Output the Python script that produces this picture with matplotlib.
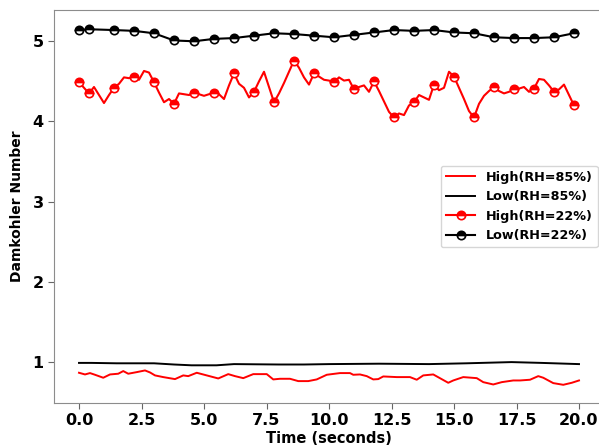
import numpy as np
import matplotlib
matplotlib.use("Agg")
import matplotlib.pyplot as plt

# ---- data ----
# RH=22% high: 0.2 s grid from 0 to 19.8
t22_high = [round(0.2 * i, 1) for i in range(100)]
v22_high = [4.49, 4.42, 4.35, 4.43, 4.33, 4.23, 4.33, 4.42, 4.47, 4.55,
            4.54, 4.55, 4.52, 4.63, 4.61, 4.49, 4.36, 4.24, 4.28, 4.22,
            4.35, 4.34, 4.33, 4.35, 4.34, 4.32, 4.34, 4.35, 4.34, 4.28,
            4.45, 4.60, 4.47, 4.42, 4.30, 4.37, 4.50, 4.62, 4.43, 4.24,
            4.35, 4.48, 4.62, 4.76, 4.67, 4.55, 4.46, 4.60, 4.56, 4.52,
            4.51, 4.49, 4.55, 4.51, 4.52, 4.40, 4.43, 4.45, 4.37, 4.50,
            4.38, 4.25, 4.12, 4.05, 4.10, 4.08, 4.20, 4.24, 4.33, 4.30,
            4.27, 4.46, 4.39, 4.42, 4.62, 4.56, 4.42, 4.28, 4.13, 4.05,
            4.22, 4.32, 4.38, 4.43, 4.38, 4.35, 4.37, 4.40, 4.41, 4.43,
            4.37, 4.41, 4.53, 4.52, 4.45, 4.37, 4.40, 4.46, 4.33, 4.20]
marker_idx = [0, 2] + list(range(7, 100, 4))

# RH=22% low: sampled at marker times
t22_low = [0.0, 0.4, 1.4, 2.2, 3.0, 3.8, 4.6, 5.4, 6.2, 7.0, 7.8, 8.6, 9.4,
           10.2, 11.0, 11.8, 12.6, 13.4, 14.2, 15.0, 15.8, 16.6, 17.4,
           18.2, 19.0, 19.8]
v22_low = [5.14, 5.15, 5.14, 5.13, 5.10, 5.01, 5.00, 5.03, 5.04, 5.07,
           5.10, 5.09, 5.07, 5.05, 5.08, 5.11, 5.14, 5.13, 5.14, 5.11,
           5.10, 5.05, 5.04, 5.04, 5.05, 5.10]

# RH=85% high
t85_high = [0.0, 0.24, 0.44, 0.64, 0.97, 1.24, 1.57, 1.77, 1.97, 2.31,
            2.64, 2.84, 3.04, 3.37, 3.84, 4.17, 4.37, 4.71, 5.11, 5.57,
            5.97, 6.24, 6.57, 6.97, 7.51, 7.77, 8.04, 8.44, 8.77, 9.17,
            9.51, 9.91, 10.44, 10.84, 10.97, 11.24, 11.51, 11.77, 11.97,
            12.17, 12.71, 13.24, 13.51, 13.77, 14.17, 14.77, 14.97, 15.37,
            15.91, 16.17, 16.57, 16.91, 17.37, 17.64, 18.04, 18.37, 18.57,
            18.97, 19.37, 19.71, 20.0]
v85_high = [0.867, 0.846, 0.863, 0.842, 0.805, 0.846, 0.855, 0.888, 0.855,
            0.875, 0.896, 0.871, 0.834, 0.813, 0.788, 0.834, 0.825, 0.867,
            0.834, 0.796, 0.850, 0.825, 0.800, 0.850, 0.850, 0.784, 0.792,
            0.792, 0.763, 0.763, 0.784, 0.842, 0.863, 0.863, 0.842, 0.846,
            0.825, 0.784, 0.788, 0.821, 0.813, 0.813, 0.780, 0.834, 0.846,
            0.742, 0.771, 0.813, 0.800, 0.750, 0.721, 0.750, 0.771, 0.771,
            0.780, 0.825, 0.805, 0.738, 0.717, 0.742, 0.771]

# RH=85% low
t85_low = [0.0, 0.5, 1.5, 3.0, 3.8, 4.5, 5.5, 6.2, 8.0, 9.0, 10.0, 12.0,
           14.0, 15.5, 17.3, 18.5, 20.0]
v85_low = [0.99, 0.99, 0.985, 0.985, 0.97, 0.96, 0.96, 0.975, 0.97, 0.97,
           0.975, 0.98, 0.975, 0.985, 1.0, 0.99, 0.975]

xticks = [0.0, 2.5, 5.0, 7.5, 10.0, 12.5, 15.0, 17.5, 20.0]
yticks = [1, 2, 3, 4, 5]

# ---- plot ----
plt.rcParams['font.family'] = ['DejaVu Sans']
plt.rcParams['font.weight'] = 'bold'

fig = plt.figure(figsize=(5.99, 4.48), dpi=100)
ax = fig.add_axes([54 / 599, 45 / 448, 550 / 599, 393 / 448])

ax.plot(t85_high, v85_high, color='red', lw=1.4, label='High(RH=85%)')
ax.plot(t85_low, v85_low, color='black', lw=1.4, label='Low(RH=85%)')
ax.plot(t22_high, v22_high, color='red', lw=1.5, marker='o', ms=6,
        fillstyle='top', markerfacecoloralt='white', markeredgecolor='red',
        markeredgewidth=1.2, markevery=marker_idx, label='High(RH=22%)')
ax.plot(t22_low, v22_low, color='black', lw=1.5, marker='o', ms=6,
        fillstyle='top', markerfacecoloralt='white', markeredgecolor='black',
        markeredgewidth=1.2, label='Low(RH=22%)')

ax.set_xlim(-1, 21)
ax.set_ylim(0.49, 5.39)
ax.set_xticks(xticks)
ax.set_xticklabels([f"{v:.1f}" for v in xticks])
ax.set_yticks(yticks)
ax.tick_params(labelsize=11.5, color='0.4', length=4)
for lab in ax.get_xticklabels() + ax.get_yticklabels():
    lab.set_fontweight('bold')
for s in ax.spines.values():
    s.set_color('0.55')
ax.spines['right'].set_visible(False)

ax.set_xlabel('Time (seconds)', fontsize=10.5, fontweight='bold', labelpad=2)
ax.set_ylabel('Damkohler Number', fontsize=10, fontweight='bold', labelpad=6)

leg = ax.legend(loc='center right', prop={'size': 9.2, 'weight': 'bold'},
                handlelength=2.3)

fig.savefig('out.png', dpi=100)
